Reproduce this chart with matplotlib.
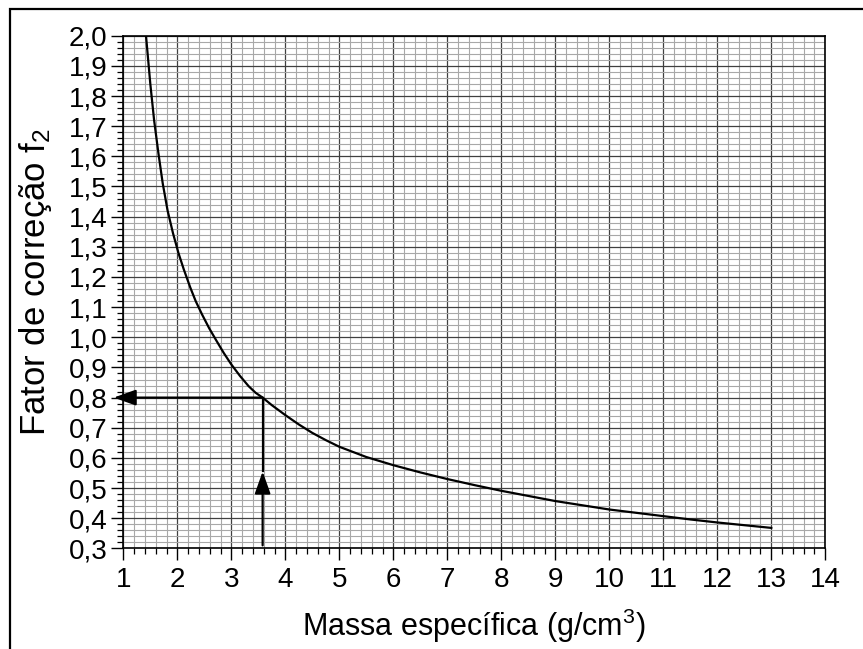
import numpy as np
import matplotlib.pyplot as plt
from matplotlib.ticker import MultipleLocator, FuncFormatter
from matplotlib.patches import Rectangle

# curve (massa especifica, fator f2)
massa = [1.42, 1.50, 1.57, 1.65, 1.73, 1.82, 1.92, 2.02, 2.12, 2.24, 2.34, 2.46,
         2.59, 2.72, 2.86, 3.00, 3.16, 3.32, 3.45, 3.58, 3.75, 4.00, 4.25, 4.50,
         4.75, 5.00, 5.5, 6.0, 6.5, 7.0, 7.5, 8.0, 8.5, 9.0, 9.5, 10.0, 10.5,
         11.0, 11.5, 12.0, 12.5, 13.0]
fator = [2.00, 1.84, 1.72, 1.61, 1.51, 1.42, 1.345, 1.28, 1.225, 1.165, 1.12, 1.075,
         1.03, 0.99, 0.948, 0.91, 0.872, 0.838, 0.816, 0.80, 0.775, 0.742, 0.711, 0.683,
         0.659, 0.637, 0.603, 0.576, 0.552, 0.530, 0.510, 0.491, 0.474, 0.457, 0.443,
         0.429, 0.418, 0.407, 0.396, 0.386, 0.377, 0.368]

# example reading shown with arrows
x_lido = 3.58
f_lido = 0.80
seta_x = 0.82
seta_y = 0.555
base_y = 0.31

plt.rcParams['font.family'] = ['Liberation Sans', 'DejaVu Sans']
plt.rcParams['mathtext.fontset'] = 'custom'
plt.rcParams['mathtext.rm'] = 'Liberation Sans'
plt.rcParams['mathtext.it'] = 'Liberation Sans'

fig = plt.figure(figsize=(8.63, 6.49), dpi=100)
ax = fig.add_axes([0.1429, 0.155, 0.8134, 0.790])

# fine graph-paper grid
ax.xaxis.set_major_locator(MultipleLocator(1))
ax.xaxis.set_minor_locator(MultipleLocator(0.2))
ax.yaxis.set_major_locator(MultipleLocator(0.1))
ax.yaxis.set_minor_locator(MultipleLocator(0.02))
ax.grid(which='minor', color='#a8a8a8', linewidth=0.8)
ax.grid(which='major', color='#404040', linewidth=0.9)
ax.set_axisbelow(True)

ax.plot(massa, fator, color='black', linewidth=1.6, zorder=3)

# horizontal arrow to the f2 axis
ax.annotate('', xy=(seta_x, f_lido), xytext=(x_lido, f_lido), annotation_clip=False,
            arrowprops=dict(arrowstyle='-|>,head_length=0.9,head_width=0.32',
                            mutation_scale=15, color='black', lw=1.6,
                            shrinkA=0, shrinkB=0), zorder=4)
# vertical line from the x axis with arrow half way
ax.plot([x_lido, x_lido], [seta_y, f_lido], color='black', linewidth=1.6, zorder=4)
ax.annotate('', xy=(x_lido, seta_y), xytext=(x_lido, base_y),
            arrowprops=dict(arrowstyle='-|>,head_length=0.9,head_width=0.32',
                            mutation_scale=15, color='black', lw=1.6,
                            shrinkA=0, shrinkB=0), zorder=4)

ax.set_xlim(1, 14)
ax.set_ylim(0.3, 2.0)

ax.yaxis.set_major_formatter(FuncFormatter(lambda v, p: f'{v:.1f}'.replace('.', ',')))
ax.xaxis.set_major_formatter(FuncFormatter(lambda v, p: f'{v:.0f}'))

ax.tick_params(which='major', direction='out', length=8.5, width=1.0,
               labelsize=20, color='black')
ax.tick_params(which='minor', direction='out', length=4.5, width=0.9, color='black')
ax.tick_params(axis='x', which='major', pad=5)
ax.tick_params(axis='y', which='major', pad=3)

for s in ax.spines.values():
    s.set_linewidth(1.2)
    s.set_color('black')

ax.set_xlabel('Massa específica (g/cm$^{3}$)', fontsize=22, va='center')
ax.xaxis.set_label_coords(0.5, -0.152)
ax.set_ylabel('Fator de correção f$_{2}$', fontsize=25, va='center')
ax.yaxis.set_label_coords(-0.125, 0.52)

# frame around the figure, running off the right and bottom edges
fig.add_artist(Rectangle((10 / 863, -0.05), 1.1, 1.05 - 9 / 649,
                         transform=fig.transFigure, fill=False,
                         edgecolor='black', linewidth=1.6, clip_on=False))

fig.savefig('out.png', dpi=100)
